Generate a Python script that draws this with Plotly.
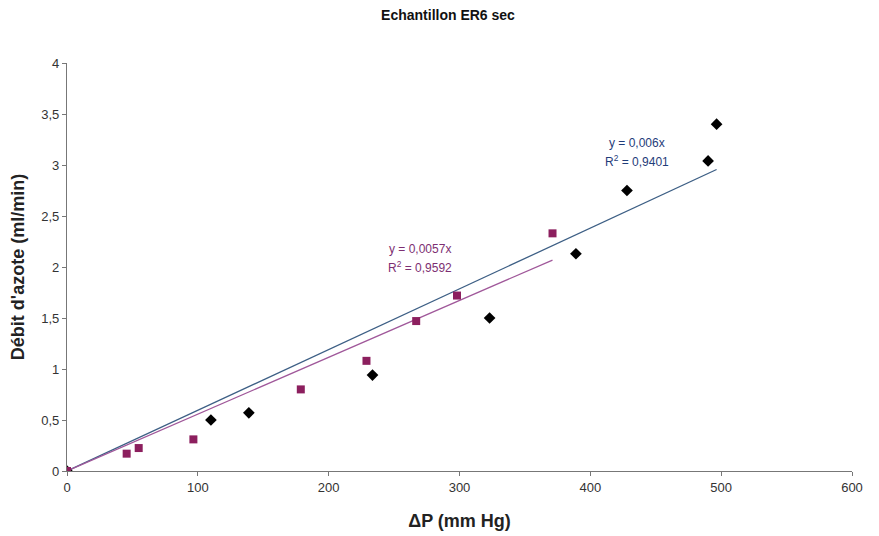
import numpy as np
import plotly.graph_objects as go

# Data
dp_diamond = [0, 110, 139, 233.5, 323, 389, 428, 490, 496.5]
q_diamond = [0, 0.50, 0.57, 0.94, 1.50, 2.13, 2.75, 3.04, 3.40]
dp_square = [0, 45.6, 54.8, 96.6, 178.7, 228.9, 266.9, 298.1, 371.1]
q_square = [0, 0.17, 0.225, 0.31, 0.80, 1.08, 1.47, 1.72, 2.33]

eq_blue = ["y = 0,006x", "R<sup>2</sup> = 0,9401"]
eq_pink = ["y = 0,0057x", "R<sup>2</sup> = 0,9592"]

x_ticks = [0, 100, 200, 300, 400, 500, 600]
y_ticks = [0, 0.5, 1, 1.5, 2, 2.5, 3, 3.5, 4]
y_ticklabels = ["0", "0,5", "1", "1,5", "2", "2,5", "3", "3,5", "4"]

FONT = "Liberation Sans, Arial, sans-serif"
BLUE_LINE = "#3d5f85"
BLUE_TEXT = "#1f3d7a"
PINK_LINE = "#a0589a"
PINK_TEXT = "#7d2f72"
SQ_COLOR = "#8c1f5e"

W, H = 879, 536
OFF = 8  # page body margin in the browser


def origin_fit(x, y):
    x = np.asarray(x, float)
    y = np.asarray(y, float)
    return float((x * y).sum() / (x * x).sum())


kb = origin_fit(dp_diamond, q_diamond)
kp = origin_fit(dp_square, q_square)
xb = [0, max(dp_diamond)]
xp = [0, max(dp_square)]

fig = go.Figure()
fig.add_trace(go.Scatter(x=xb, y=[kb * v for v in xb], mode="lines",
                         line=dict(color=BLUE_LINE, width=1.3), showlegend=False))
fig.add_trace(go.Scatter(x=xp, y=[kp * v for v in xp], mode="lines",
                         line=dict(color=PINK_LINE, width=1.3), showlegend=False))
fig.add_trace(go.Scatter(x=dp_diamond, y=q_diamond, mode="markers",
                         marker=dict(symbol="diamond", size=9, color="black"),
                         showlegend=False))
fig.add_trace(go.Scatter(x=dp_square, y=q_square, mode="markers",
                         marker=dict(symbol="square", size=8, color=SQ_COLOR),
                         showlegend=False))

for txt, yv in zip(eq_blue, [3.216, 3.04]):
    fig.add_annotation(x=435.7, y=yv, xref="x", yref="y", text=txt,
                       showarrow=False,
                       font=dict(size=12, color=BLUE_TEXT, family=FONT))
for txt, yv in zip(eq_pink, [2.176, 2.0]):
    fig.add_annotation(x=269.8, y=yv, xref="x", yref="y", text=txt,
                       showarrow=False,
                       font=dict(size=12, color=PINK_TEXT, family=FONT))

axis_common = dict(showgrid=False, zeroline=False, showline=True,
                   linecolor="#777777", linewidth=1.3, ticks="outside",
                   ticklen=4, tickcolor="#777777", automargin=False,
                   tickfont=dict(size=13, color="#333333", family=FONT))

fig.update_layout(
    width=W, height=H,
    margin=dict(l=67 - OFF, r=27 + OFF, t=63 - OFF, b=65 + OFF),
    paper_bgcolor="white", plot_bgcolor="white",
    title=dict(text="<b>Echantillon ER6 sec</b>", x=(448 - OFF) / W,
               xanchor="center", y=1 - (15 - OFF) / H, yanchor="middle",
               automargin=False,
               font=dict(size=14, color="#111111", family=FONT)),
    xaxis=dict(range=[0, 600], tickvals=x_ticks,
               title=dict(text="<b>ΔP (mm Hg)</b>", standoff=20,
                          font=dict(size=18, color="#222222", family=FONT)),
               **axis_common),
    yaxis=dict(range=[0, 4], tickvals=y_ticks, ticktext=y_ticklabels,
               title=dict(text="<b>Débit d'azote (ml/min)</b>", standoff=12,
                          font=dict(size=18, color="#222222", family=FONT)),
               **axis_common),
)

fig.write_html("out.html")
